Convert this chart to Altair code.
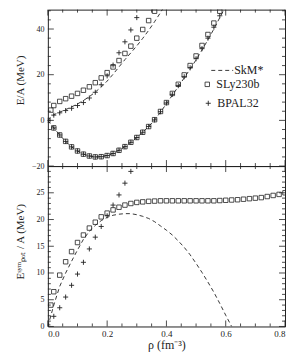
import altair as alt
import pandas as pd

FONT = "Liberation Serif"
INK = "#222222"

# ---------------- top panel : E/A (MeV) ----------------
# symmetric nuclear matter
RHO_SNM = [0.00, 0.02, 0.04, 0.06, 0.08, 0.10, 0.12, 0.14, 0.16, 0.18, 0.20,
           0.22, 0.24, 0.26, 0.28, 0.30, 0.32, 0.34, 0.36, 0.38, 0.40,
           0.42, 0.44, 0.46, 0.48, 0.50, 0.52, 0.54, 0.56, 0.58, 0.60]
SKM_SNM = [0.0, -3.3, -6.4, -9.2, -11.6, -13.4, -14.8, -15.6, -16.0, -15.9, -15.4,
           -14.5, -13.1, -11.5, -9.6, -7.5, -5.2, -2.7, 0.1, 3.6, 7.3,
           11.0, 14.8, 18.6, 22.5, 26.5, 30.8, 35.3, 40.0, 45.0, 50.0]
SLY_SNM = [0.0, -3.3, -6.4, -9.2, -11.6, -13.4, -14.8, -15.6, -16.0, -15.9, -15.4,
           -14.5, -13.1, -11.5, -9.6, -7.5, -5.2, -2.7, 0.3, 3.9, 7.8,
           11.8, 15.8, 19.9, 24.0, 28.2, 32.8, 37.6, 42.6, 47.8, 53.0]
BPAL_SNM = [0.0, -3.3, -6.4, -9.2, -11.6, -13.4, -14.8, -15.6, -16.0, -15.9, -15.4,
            -14.5, -13.1, -11.5, -9.6, -7.5, -5.2, -2.7, 0.2, 3.8, 7.6,
            11.4, 15.2, 19.1, 23.0, 27.0, 31.4, 36.0, 40.8, 45.8, 51.0]

# pure neutron matter
RHO_PNM_SKM = [0.00, 0.02, 0.04, 0.06, 0.08, 0.10, 0.12, 0.14, 0.16, 0.18, 0.20,
               0.22, 0.24, 0.26, 0.28, 0.30, 0.32, 0.34, 0.36, 0.38, 0.40]
SKM_PNM = [0.0, 2.5, 3.6, 4.7, 5.9, 7.2, 8.7, 10.4, 12.4, 14.6, 17.2,
           20.2, 23.4, 26.6, 29.6, 32.6, 35.9, 39.4, 43.2, 47.2, 51.5]
RHO_PNM_SLY = [0.01, 0.02, 0.04, 0.06, 0.08, 0.10, 0.12, 0.14, 0.16, 0.18, 0.20,
               0.22, 0.24, 0.26, 0.28, 0.30, 0.32, 0.34, 0.36]
SLY_PNM = [4.5, 6.5, 8.3, 9.5, 10.6, 11.8, 13.2, 14.7, 16.5, 18.6, 20.9,
           23.4, 26.2, 29.3, 32.5, 36.0, 39.8, 43.7, 47.8]
RHO_PNM_BPAL = [0.00, 0.02, 0.04, 0.06, 0.08, 0.10, 0.12, 0.14, 0.16, 0.18, 0.20,
                0.22, 0.24, 0.26, 0.28, 0.30]
BPAL_PNM = [0.0, 2.3, 3.3, 4.3, 5.3, 6.5, 7.8, 9.8, 12.3, 15.6, 19.5,
            24.2, 29.6, 34.4, 39.6, 45.0]

# ---------------- bottom panel : E_pot^sym / A (MeV) ----------------
RHO_SYM_SKM = [0.00, 0.02, 0.04, 0.06, 0.08, 0.10, 0.12, 0.14, 0.16, 0.18, 0.20,
               0.22, 0.24, 0.26, 0.28, 0.30, 0.32, 0.34, 0.36, 0.38, 0.40,
               0.42, 0.44, 0.46, 0.48, 0.50, 0.52, 0.54, 0.56, 0.58, 0.60, 0.62]
SKM_SYM = [0.0, 4.0, 7.5, 10.0, 12.2, 14.3, 16.3, 17.8, 18.9, 19.8, 20.4,
           20.8, 21.0, 21.1, 21.1, 20.9, 20.6, 20.2, 19.6, 18.8, 18.0,
           17.1, 16.0, 14.8, 13.4, 11.8, 10.1, 8.3, 6.4, 4.3, 2.1, 0.0]
RHO_SYM_SLY = [0.01, 0.02, 0.04, 0.06, 0.08, 0.10, 0.12, 0.14, 0.16, 0.18, 0.20,
               0.22, 0.24, 0.26, 0.28, 0.30, 0.32, 0.34, 0.36, 0.38, 0.40,
               0.42, 0.44, 0.46, 0.48, 0.50, 0.52, 0.54, 0.56, 0.58, 0.60,
               0.62, 0.64, 0.66, 0.68, 0.70, 0.72, 0.74, 0.76, 0.78, 0.80]
SLY_SYM = [4.0, 6.5, 9.6, 12.1, 14.0, 15.7, 17.1, 18.4, 19.5, 20.5, 21.2,
           21.8, 22.3, 22.7, 23.0, 23.2, 23.3, 23.4, 23.45, 23.5, 23.5,
           23.5, 23.5, 23.5, 23.5, 23.5, 23.5, 23.5, 23.5, 23.55, 23.6,
           23.65, 23.7, 23.8, 23.9, 24.0, 24.1, 24.3, 24.5, 24.7, 25.0]
RHO_SYM_BPAL = [0.00, 0.02, 0.04, 0.06, 0.08, 0.10, 0.12, 0.14, 0.16, 0.18, 0.20,
                0.22, 0.24, 0.26, 0.28]
BPAL_SYM = [0.3, 1.9, 3.5, 5.5, 7.7, 9.8, 12.0, 14.5, 16.7, 18.7, 20.7,
            22.7, 24.6, 26.8, 29.0]

MODELS = ["SkM*", "SLy230b", "BPAL32"]

X_MAJOR = [0.0, 0.2, 0.4, 0.6, 0.8]
X_MINOR = [0.05, 0.10, 0.15, 0.25, 0.30, 0.35, 0.45, 0.50, 0.55, 0.65, 0.70, 0.75]
TOP_Y_MAJOR = [-20, 0, 20, 40]
TOP_Y_MINOR = [-16, -12, -8, -4, 4, 8, 12, 16, 24, 28, 32, 36, 44, 48]
BOT_Y_MAJOR = [0, 5, 10, 15, 20, 25]
BOT_Y_MINOR = [v for v in range(1, 30) if v % 5 != 0]

W = 238
H_TOP = 157
H_BOT = 161

PLUS = "M-1,0H1M0,-1V1"

xs = alt.Scale(domain=[0, 0.8], nice=False, zero=False)


def df(x, y):
    return pd.DataFrame({"rho": x, "v": y})


def series_layers(ys, xaxis, yaxis, data):
    """data: list of (kind, rho, values)"""
    out = []
    for kind, rx, vy in data:
        base = alt.Chart(df(rx, vy))
        if kind == "line":
            m = base.mark_line(strokeDash=[4, 3], strokeWidth=0.9, color=INK, clip=True)
        elif kind == "square":
            m = base.mark_point(shape="square", filled=False, size=20, strokeWidth=0.8,
                                color=INK, opacity=1, clip=True)
        else:
            m = base.mark_point(shape=PLUS, filled=False, size=26, strokeWidth=0.9,
                                color=INK, opacity=1, clip=True)
        out.append(m.encode(
            x=alt.X("rho:Q", scale=xs, axis=xaxis),
            y=alt.Y("v:Q", scale=ys, axis=yaxis),
        ))
    return out


def tick_layers(ys, xaxis, yaxis, ymaj, ymin, H):
    out = []
    for vals, L in ((X_MAJOR, 6), (X_MINOR, 3)):
        b = alt.Chart(pd.DataFrame({"t": vals})).mark_rule(color=INK, strokeWidth=0.8)
        out.append(b.encode(x=alt.X("t:Q", scale=xs, axis=xaxis), y=alt.value(H), y2=alt.value(H - L)))
        out.append(b.encode(x=alt.X("t:Q", scale=xs, axis=xaxis), y=alt.value(0), y2=alt.value(L)))
    for vals, L in ((ymaj, 6), (ymin, 3)):
        b = alt.Chart(pd.DataFrame({"t": vals})).mark_rule(color=INK, strokeWidth=0.8)
        out.append(b.encode(y=alt.Y("t:Q", scale=ys, axis=yaxis), x=alt.value(0), x2=alt.value(L)))
        out.append(b.encode(y=alt.Y("t:Q", scale=ys, axis=yaxis), x=alt.value(W), x2=alt.value(W - L)))
    return out


def legend_layers():
    out = []
    out.append(alt.Chart(pd.DataFrame({"t": [MODELS[0]]})).mark_rule(
        strokeDash=[4, 3], strokeWidth=0.9, color=INK).encode(
        x=alt.value(164), x2=alt.value(186), y=alt.value(61)))
    out.append(alt.Chart(pd.DataFrame({"t": [MODELS[1]]})).mark_point(
        shape="square", filled=False, size=20, strokeWidth=0.8, color=INK, opacity=1).encode(
        x=alt.value(160), y=alt.value(75)))
    out.append(alt.Chart(pd.DataFrame({"t": [MODELS[2]]})).mark_point(
        shape=PLUS, filled=False, size=26, strokeWidth=0.9, color=INK, opacity=1).encode(
        x=alt.value(161), y=alt.value(94)))
    for name, x, y in ((MODELS[0], 187, 61), (MODELS[1], 169, 75), (MODELS[2], 170, 94)):
        out.append(alt.Chart(pd.DataFrame({"t": [name]})).mark_text(
            align="left", baseline="middle", font=FONT, fontSize=12, color=INK).encode(
            x=alt.value(x), y=alt.value(y), text="t:N"))
    return out


ys_top = alt.Scale(domain=[-20, 48.5], nice=False, zero=False)
ys_bot = alt.Scale(domain=[0, 30], nice=False, zero=False)

common = dict(ticks=False, domain=False, grid=False, labelFont=FONT, titleFont=FONT,
              labelColor=INK, titleColor=INK, titleFontWeight="normal")

yaxis_top = alt.Axis(values=TOP_Y_MAJOR, title="E/A (MeV)", labelPadding=4, labelFontSize=8,
                     titleFontSize=11, titleX=-27, titleY=H_TOP / 2 - 8, titleAngle=-90,
                     titleAlign="center", titleBaseline="middle", **common)
yaxis_bot = alt.Axis(values=BOT_Y_MAJOR, title="Eˢʸᵐₚₒₜ / A (MeV)", labelPadding=4, labelFontSize=8,
                     titleFontSize=11, titleX=-27, titleY=H_BOT / 2 - 5, titleAngle=-90,
                     titleAlign="center", titleBaseline="middle", **common)
xaxis_bot = alt.Axis(values=X_MAJOR, format=".1f", title="ρ (fm⁻³)", labelPadding=3,
                     labelFontSize=9, titleFontSize=12, titlePadding=1, **common)

top = alt.layer(
    *series_layers(ys_top, None, yaxis_top, [
        ("line", RHO_SNM, SKM_SNM),
        ("line", RHO_PNM_SKM, SKM_PNM),
        ("square", RHO_SNM, SLY_SNM),
        ("square", RHO_PNM_SLY, SLY_PNM),
        ("plus", RHO_SNM, BPAL_SNM),
        ("plus", RHO_PNM_BPAL, BPAL_PNM),
    ]),
    *tick_layers(ys_top, None, yaxis_top, TOP_Y_MAJOR, TOP_Y_MINOR, H_TOP),
    *legend_layers(),
).properties(width=W, height=H_TOP)

bottom = alt.layer(
    *series_layers(ys_bot, xaxis_bot, yaxis_bot, [
        ("line", RHO_SYM_SKM, SKM_SYM),
        ("square", RHO_SYM_SLY, SLY_SYM),
        ("plus", RHO_SYM_BPAL, BPAL_SYM),
    ]),
    *tick_layers(ys_bot, xaxis_bot, yaxis_bot, BOT_Y_MAJOR, BOT_Y_MINOR, H_BOT),
).properties(width=W, height=H_BOT)

chart = alt.vconcat(top, bottom, spacing=0, bounds="flush").properties(
    padding={"left": 6, "top": 0, "right": 0, "bottom": 0}
).configure_view(
    stroke=INK, strokeWidth=1
)

chart.save("out.html", embed_options={"renderer": "svg", "actions": False})
